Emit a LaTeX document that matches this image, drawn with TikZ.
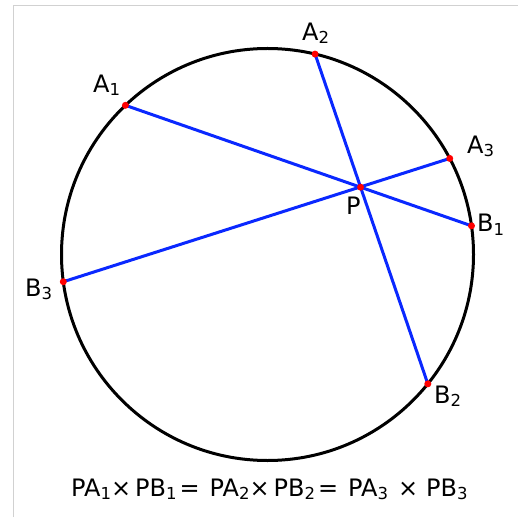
\documentclass[tikz,border=0pt]{standalone}
\usepackage{fontspec}
\setmainfont{DejaVu Sans}
\usetikzlibrary{calc,intersections}
\newcommand\sbs[1]{\raisebox{-3pt}{\fontsize{16.5}{16.5}\selectfont #1}}
\begin{document}
\begin{tikzpicture}[x=1pt,y=1pt,
  circ/.style={line width=3pt},
  chord/.style={line width=3pt, draw={rgb,255:red,10;green,40;blue,255}},
  dot/.style={circle, fill=red, inner sep=0pt, minimum size=7pt},
  lbl/.style={font=\fontsize{24}{28}\selectfont, inner sep=0pt, anchor=base west}]
\useasboundingbox (0,0) rectangle (518,517);
\draw[black!18, line width=1.5pt] (13.5,0) -- (13.5,511.5) -- (518,511.5);
\coordinate (O) at (267.5,262.5);
\draw[circ] (O) circle (206);
\coordinate (A1) at ($(O)+(133.6:206)$);
\coordinate (B1) at ($(O)+(8.0:206)$);
\coordinate (A2) at ($(O)+(76.65:206)$);
\coordinate (B2) at ($(O)+(-38.9:206)$);
\coordinate (A3) at ($(O)+(27.8:206)$);
\coordinate (B3) at ($(O)+(187.6:206)$);
\path[name path=c1] (A1) -- (B1);
\path[name path=c2] (A2) -- (B2);
\path[name intersections={of=c1 and c2, by=P}];
\draw[chord] (A1) -- (B1);
\draw[chord] (A2) -- (B2);
\draw[chord] (A3) -- (B3);
\foreach \p in {A1,B1,A2,B2,A3,B3,P} \node[dot] (d\p) at (\p) {};
\node[lbl] (lA1) at (93,424) {A\sbs{1}};
\node[lbl] (lA2) at (302,476) {A\sbs{2}};
\node[lbl] (lA3) at (467,363) {A\sbs{3}};
\node[lbl] (lB1) at (477,285) {B\sbs{1}};
\node[lbl] (lB3) at (25,221) {B\sbs{3}};
\node[lbl] (lB2) at (434,114) {B\sbs{2}};
\node[lbl] (lP) at (346,302) {P};
\node[lbl] (eq) at (71,21) {PA\sbs{1}×\kern4pt PB\sbs{1}\kern3pt=\kern10pt PA\sbs{2}×\kern4pt PB\sbs{2}\kern3pt=\kern10pt PA\sbs{3}\kern10pt×\kern8pt PB\sbs{3}};
\end{tikzpicture}
\end{document}
